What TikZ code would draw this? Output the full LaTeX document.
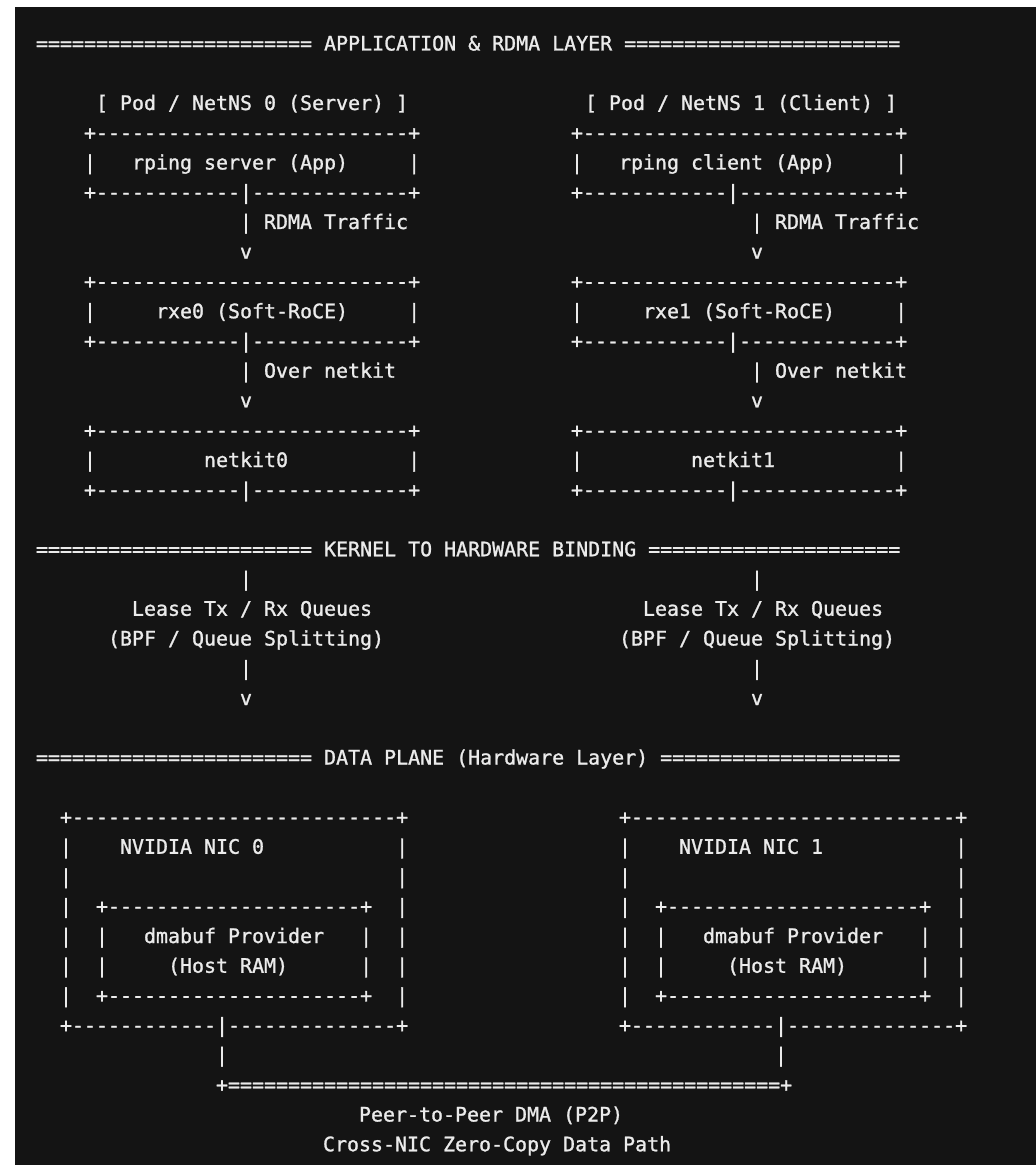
\documentclass[tikz,border=0pt]{standalone}
\usepackage{fontspec}
\setmonofont{DejaVu Sans Mono}[FakeBold=1.2]
\usepackage{tikz}
\definecolor{termbg}{HTML}{141414}
\definecolor{termfg}{HTML}{EBEBEB}
\ExplSyntaxOn
\cs_new:Npn \rptchar #1#2 { \prg_replicate:nn {#1} {#2} }
\ExplSyntaxOff
\frenchspacing

\begin{document}
\begin{tikzpicture}[
  x=0.5pt,y=-0.5pt,
  ascii/.style={text=termfg,font=\ttfamily\fontsize{9.97pt}{12pt}\selectfont,
    inner sep=0pt,outer sep=0pt,anchor=base west}
]
  \useasboundingbox (0,0) rectangle (1036,1165);
  \fill[white] (0,0) rectangle (1036,1165);
  \fill[termbg] (15,7) rectangle (1036,1165);

  % Application & RDMA layer
  \node[ascii] (hdr-app) at (36,50.5) {\rptchar{23}{=} APPLICATION \& RDMA LAYER \rptchar{23}{=}};

  % Server side
  \node[ascii] (srv-pod) at (96,110) {[ Pod / NetNS 0 (Server) ]};
  \node[ascii] (srv-app-top) at (84,139.75) {+\rptchar{26}{-}+};
  \node[ascii] (srv-app) at (84,169.5) {|\rptchar{3}{\ }rping server (App)\rptchar{5}{\ }|};
  \node[ascii] (srv-app-bot) at (84,199.25) {+\rptchar{12}{-}|\rptchar{13}{-}+};
  \node[ascii] (srv-traffic) at (240,229) {| RDMA Traffic};
  \node[ascii] (srv-v1) at (240,258.75) {v};
  \node[ascii] (srv-rxe-top) at (84,288.5) {+\rptchar{26}{-}+};
  \node[ascii] (srv-rxe) at (84,318.25) {|\rptchar{5}{\ }rxe0 (Soft-RoCE)\rptchar{5}{\ }|};
  \node[ascii] (srv-rxe-bot) at (84,348) {+\rptchar{12}{-}|\rptchar{13}{-}+};
  \node[ascii] (srv-over) at (240,377.75) {| Over netkit};
  \node[ascii] (srv-v2) at (240,407.5) {v};
  \node[ascii] (srv-nk-top) at (84,437.25) {+\rptchar{26}{-}+};
  \node[ascii] (srv-nk) at (84,467) {|\rptchar{9}{\ }netkit0\rptchar{10}{\ }|};
  \node[ascii] (srv-nk-bot) at (84,496.75) {+\rptchar{12}{-}|\rptchar{13}{-}+};

  % Client side
  \node[ascii] (cli-pod) at (585,110) {[ Pod / NetNS 1 (Client) ]};
  \node[ascii] (cli-app-top) at (571,139.75) {+\rptchar{26}{-}+};
  \node[ascii] (cli-app) at (571,169.5) {|\rptchar{3}{\ }rping client (App)\rptchar{5}{\ }|};
  \node[ascii] (cli-app-bot) at (571,199.25) {+\rptchar{12}{-}|\rptchar{13}{-}+};
  \node[ascii] (cli-traffic) at (751,229) {| RDMA Traffic};
  \node[ascii] (cli-v1) at (751,258.75) {v};
  \node[ascii] (cli-rxe-top) at (571,288.5) {+\rptchar{26}{-}+};
  \node[ascii] (cli-rxe) at (571,318.25) {|\rptchar{5}{\ }rxe1 (Soft-RoCE)\rptchar{5}{\ }|};
  \node[ascii] (cli-rxe-bot) at (571,348) {+\rptchar{12}{-}|\rptchar{13}{-}+};
  \node[ascii] (cli-over) at (751,377.75) {| Over netkit};
  \node[ascii] (cli-v2) at (751,407.5) {v};
  \node[ascii] (cli-nk-top) at (571,437.25) {+\rptchar{26}{-}+};
  \node[ascii] (cli-nk) at (571,467) {|\rptchar{9}{\ }netkit1\rptchar{10}{\ }|};
  \node[ascii] (cli-nk-bot) at (571,496.75) {+\rptchar{12}{-}|\rptchar{13}{-}+};

  % Kernel to hardware binding
  \node[ascii] (hdr-kernel) at (36,556.25) {\rptchar{23}{=} KERNEL TO HARDWARE BINDING \rptchar{21}{=}};
  \node[ascii] (srv-bar1) at (240,586) {|};
  \node[ascii] (srv-lease) at (132,615.75) {Lease Tx / Rx Queues};
  \node[ascii] (srv-bpf) at (108,645.5) {(BPF / Queue Splitting)};
  \node[ascii] (srv-bar2) at (240,675.25) {|};
  \node[ascii] (srv-v3) at (240,705) {v};
  \node[ascii] (cli-bar1) at (751,586) {|};
  \node[ascii] (cli-lease) at (643,615.75) {Lease Tx / Rx Queues};
  \node[ascii] (cli-bpf) at (619,645.5) {(BPF / Queue Splitting)};
  \node[ascii] (cli-bar2) at (751,675.25) {|};
  \node[ascii] (cli-v3) at (751,705) {v};

  % Data plane
  \node[ascii] (hdr-data) at (36,764.5) {\rptchar{23}{=} DATA PLANE (Hardware Layer) \rptchar{20}{=}};

  % NIC 0
  \node[ascii] (nic0-top) at (60,824) {+\rptchar{27}{-}+};
  \node[ascii] (nic0-name) at (60,853.75) {|\rptchar{4}{\ }NVIDIA NIC 0\rptchar{11}{\ }|};
  \node[ascii] (nic0-gap) at (60,883.5) {|\rptchar{27}{\ }|};
  \node[ascii] (buf0-top) at (60,913.25) {|\rptchar{2}{\ }+\rptchar{21}{-}+\rptchar{2}{\ }|};
  \node[ascii] (buf0-name) at (60,943) {|\rptchar{2}{\ }|\rptchar{3}{\ }dmabuf Provider\rptchar{3}{\ }|\rptchar{2}{\ }|};
  \node[ascii] (buf0-ram) at (60,972.75) {|\rptchar{2}{\ }|\rptchar{5}{\ }(Host RAM)\rptchar{6}{\ }|\rptchar{2}{\ }|};
  \node[ascii] (buf0-bot) at (60,1002.5) {|\rptchar{2}{\ }+\rptchar{21}{-}+\rptchar{2}{\ }|};
  \node[ascii] (nic0-bot) at (60,1032.25) {+\rptchar{12}{-}|\rptchar{14}{-}+};
  \node[ascii] (nic0-bar) at (216,1062) {|};

  % NIC 1
  \node[ascii] (nic1-top) at (619,824) {+\rptchar{27}{-}+};
  \node[ascii] (nic1-name) at (619,853.75) {|\rptchar{4}{\ }NVIDIA NIC 1\rptchar{11}{\ }|};
  \node[ascii] (nic1-gap) at (619,883.5) {|\rptchar{27}{\ }|};
  \node[ascii] (buf1-top) at (619,913.25) {|\rptchar{2}{\ }+\rptchar{21}{-}+\rptchar{2}{\ }|};
  \node[ascii] (buf1-name) at (619,943) {|\rptchar{2}{\ }|\rptchar{3}{\ }dmabuf Provider\rptchar{3}{\ }|\rptchar{2}{\ }|};
  \node[ascii] (buf1-ram) at (619,972.75) {|\rptchar{2}{\ }|\rptchar{5}{\ }(Host RAM)\rptchar{6}{\ }|\rptchar{2}{\ }|};
  \node[ascii] (buf1-bot) at (619,1002.5) {|\rptchar{2}{\ }+\rptchar{21}{-}+\rptchar{2}{\ }|};
  \node[ascii] (nic1-bot) at (619,1032.25) {+\rptchar{12}{-}|\rptchar{14}{-}+};
  \node[ascii] (nic1-bar) at (775,1062) {|};

  % P2P path
  \node[ascii] (p2p-bus) at (216,1091.75) {+\rptchar{46}{=}+};
  \node[ascii] (p2p-name) at (359,1121.5) {Peer-to-Peer DMA (P2P)};
  \node[ascii] (p2p-path) at (323,1151.25) {Cross-NIC Zero-Copy Data Path};
\end{tikzpicture}
\end{document}
